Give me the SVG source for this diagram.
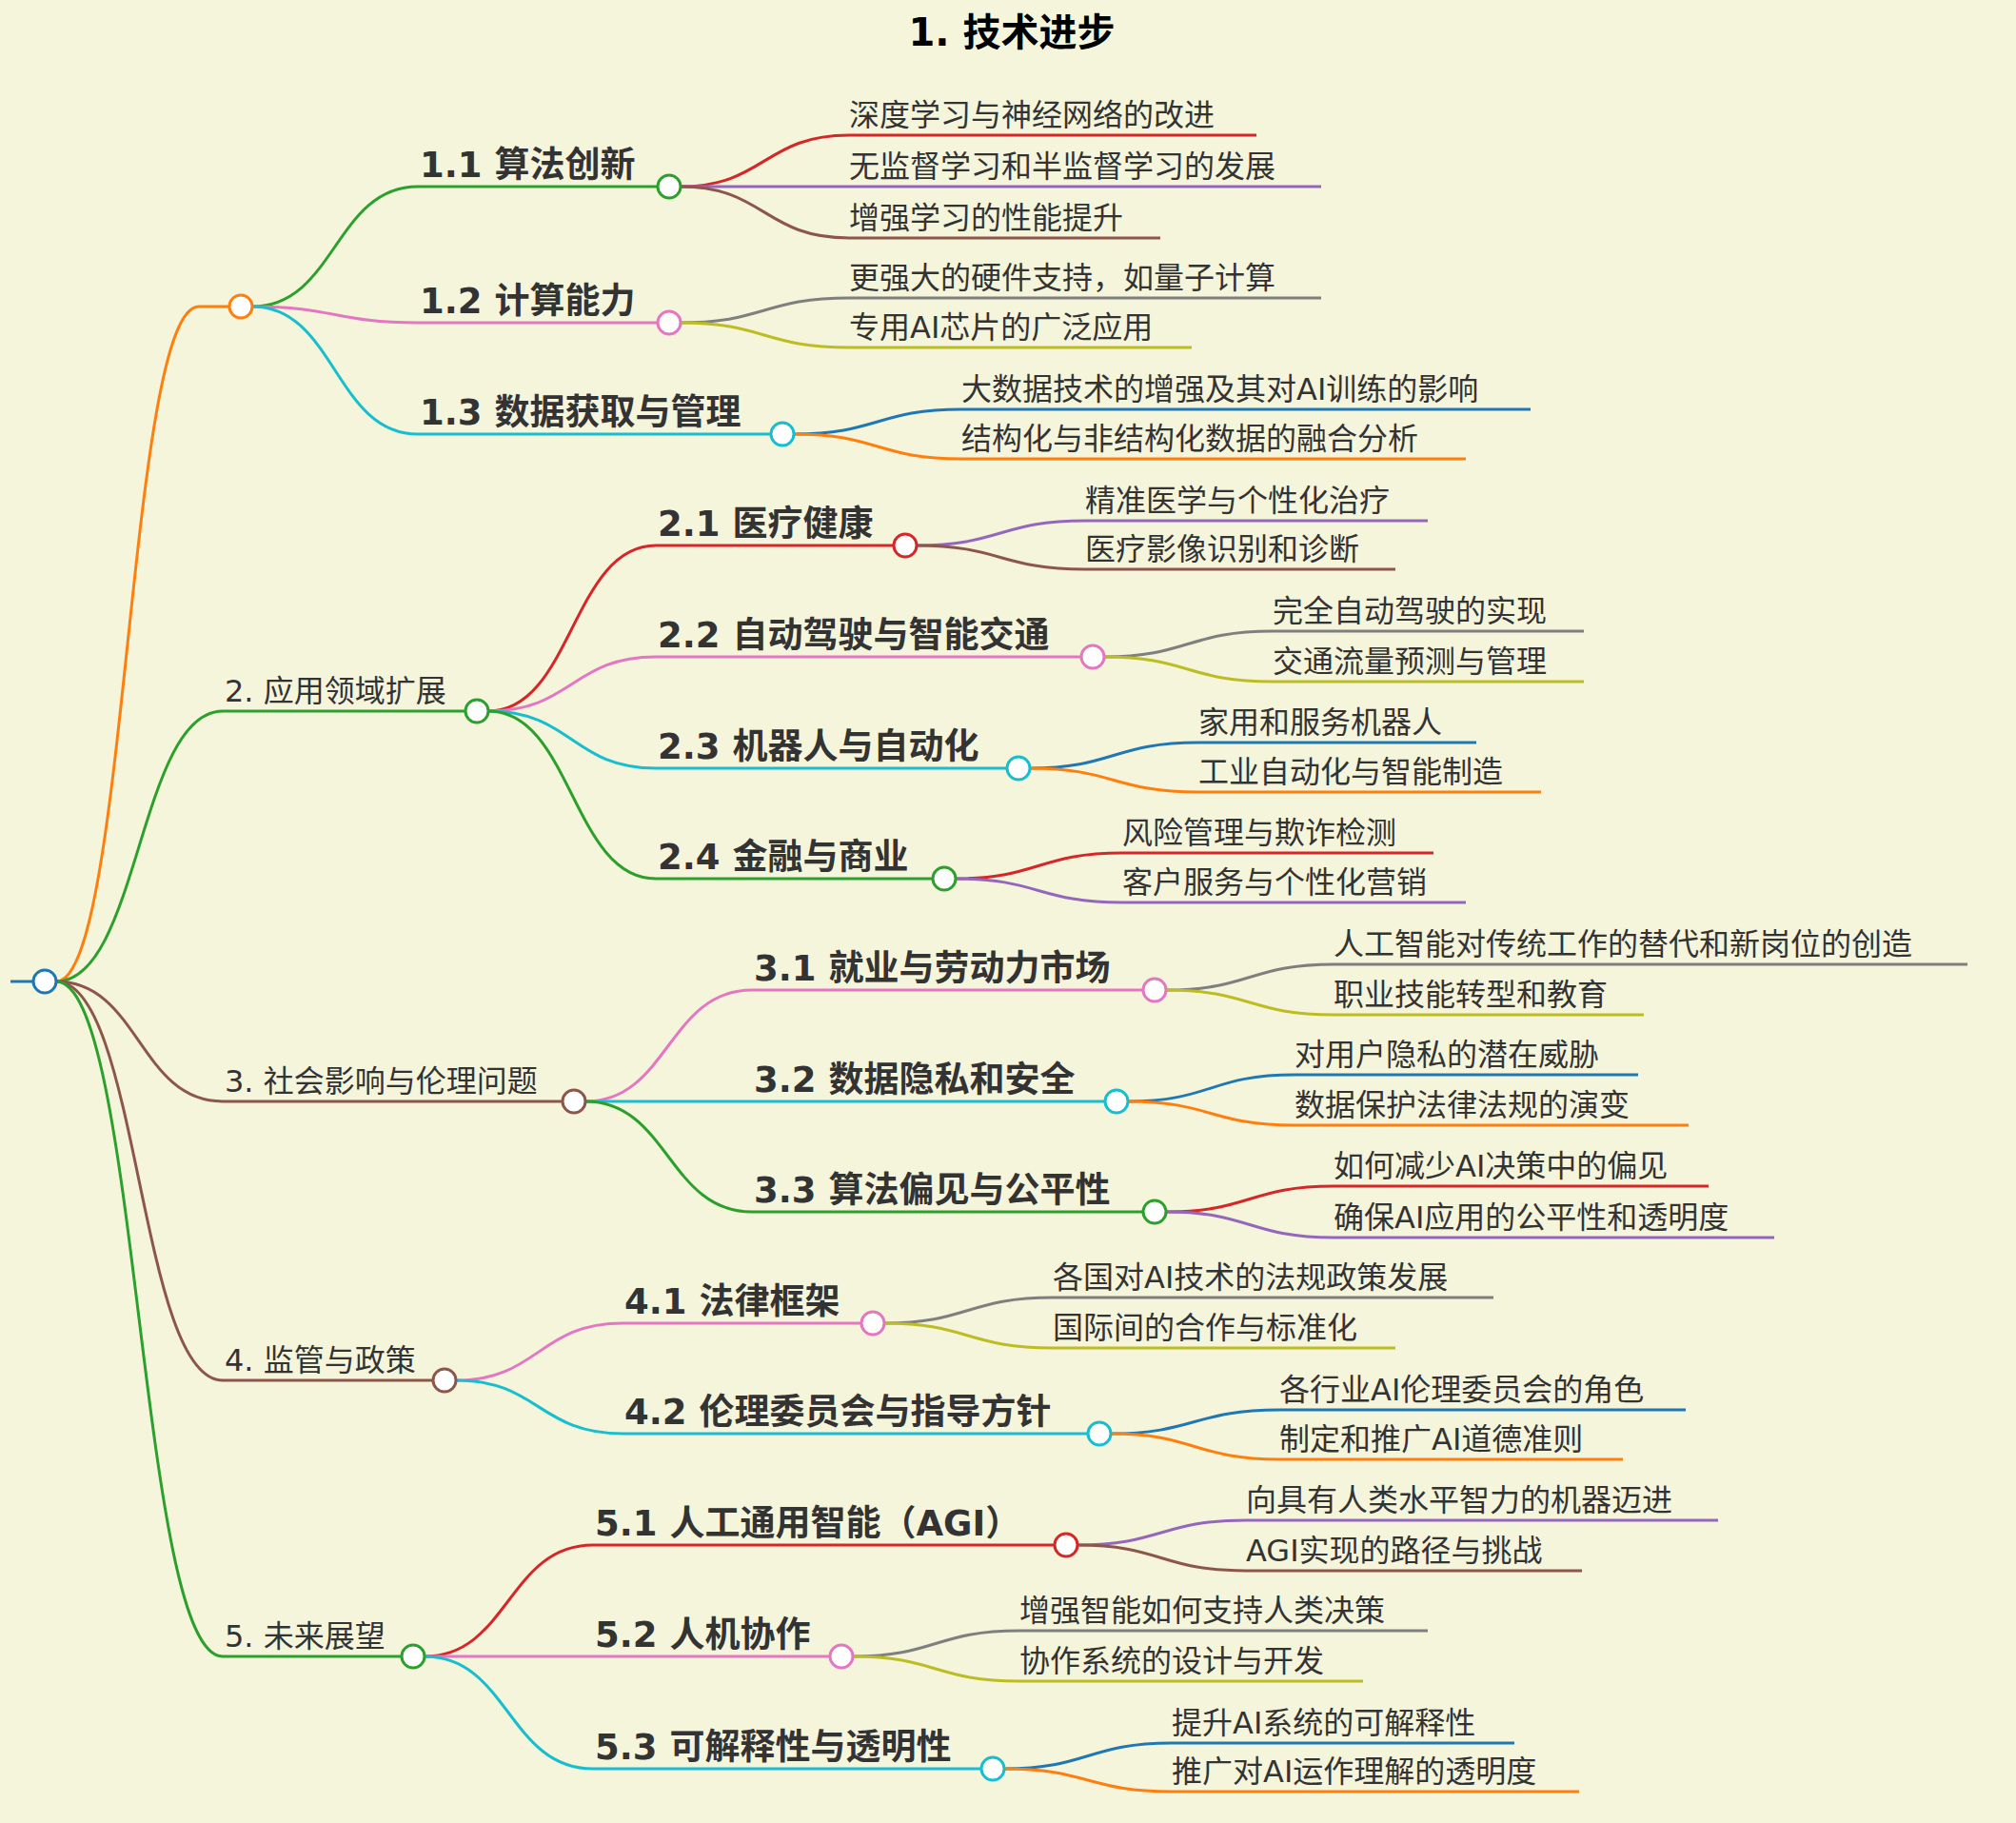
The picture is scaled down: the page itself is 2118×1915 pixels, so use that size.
<svg xmlns="http://www.w3.org/2000/svg" width="2118" height="1915" viewBox="0 0 2118 1915">
<style>
text{font-family:"DejaVu Sans","Noto Sans CJK SC",sans-serif;fill:#333}
.l1{font-size:32px}.l2{font-size:37px;font-weight:bold}.lf{font-size:32px}
.t{font-size:40px;font-weight:bold;fill:#000;text-anchor:middle}
path,line{fill:none;stroke-width:3}
circle{fill:#fff;stroke-width:3}
.or{stroke:#ff7f0e}.gr{stroke:#2ca02c}.bl{stroke:#1f77b4}.rd{stroke:#d62728}.pu{stroke:#9467bd}.br{stroke:#8c564b}.pk{stroke:#e377c2}.gy{stroke:#7f7f7f}.ol{stroke:#bcbd22}.cy{stroke:#17becf}
</style>
<rect width="2118" height="1915" fill="#f5f5dc"/>
<g id="connectors">
<line class="bl" x1="11" y1="1031" x2="35" y2="1031"/>
<path class="or" d="M59,1031 C134,1031 134,322 209,322 H241"/>
<path class="gr" d="M59,1031 C146,1031 146,747 234,747 H489"/>
<path class="br" d="M59,1031 C146,1031 146,1157 234,1157 H591"/>
<path class="br" d="M59,1031 C146,1031 146,1450 234,1450 H455"/>
<path class="gr" d="M59,1031 C146,1031 146,1740 234,1740 H422"/>
<path class="gr" d="M265,322 C352,322 352,196 439,196 H691"/>
<path class="pk" d="M265,322 C352,322 352,339 439,339 H691"/>
<path class="cy" d="M265,322 C352,322 352,456 439,456 H810"/>
<path class="rd" d="M513,747 C601,747 601,573 689,573 H939"/>
<path class="pk" d="M513,747 C601,747 601,690 689,690 H1136"/>
<path class="cy" d="M513,747 C601,747 601,807 689,807 H1058"/>
<path class="gr" d="M513,747 C601,747 601,923 689,923 H980"/>
<path class="pk" d="M615,1157 C702,1157 702,1040 790,1040 H1201"/>
<path class="cy" d="M615,1157 C702,1157 702,1157 790,1157 H1161"/>
<path class="gr" d="M615,1157 C702,1157 702,1273 790,1273 H1201"/>
<path class="pk" d="M479,1450 C566,1450 566,1390 654,1390 H905"/>
<path class="cy" d="M479,1450 C566,1450 566,1506 654,1506 H1143"/>
<path class="rd" d="M446,1740 C534,1740 534,1623 623,1623 H1108"/>
<path class="pk" d="M446,1740 C534,1740 534,1740 623,1740 H872"/>
<path class="cy" d="M446,1740 C534,1740 534,1858 623,1858 H1031"/>
<path class="rd" d="M715,196 C803,196 803,142 892,142 H1320"/>
<path class="pu" d="M715,196 C803,196 803,196 892,196 H1388"/>
<path class="br" d="M715,196 C803,196 803,250 892,250 H1219"/>
<path class="gy" d="M715,339 C803,339 803,313 892,313 H1388"/>
<path class="ol" d="M715,339 C803,339 803,365 892,365 H1252"/>
<path class="bl" d="M834,456 C922,456 922,430 1010,430 H1608"/>
<path class="or" d="M834,456 C922,456 922,482 1010,482 H1540"/>
<path class="pu" d="M963,573 C1051,573 1051,547 1140,547 H1500"/>
<path class="br" d="M963,573 C1051,573 1051,598 1140,598 H1466"/>
<path class="gy" d="M1160,690 C1248,690 1248,663 1337,663 H1664"/>
<path class="ol" d="M1160,690 C1248,690 1248,716 1337,716 H1664"/>
<path class="bl" d="M1082,807 C1170,807 1170,780 1259,780 H1551"/>
<path class="or" d="M1082,807 C1170,807 1170,832 1259,832 H1619"/>
<path class="rd" d="M1004,923 C1091,923 1091,896 1179,896 H1506"/>
<path class="pu" d="M1004,923 C1091,923 1091,948 1179,948 H1540"/>
<path class="gy" d="M1225,1040 C1313,1040 1313,1013 1401,1013 H2067"/>
<path class="ol" d="M1225,1040 C1313,1040 1313,1066 1401,1066 H1727"/>
<path class="bl" d="M1185,1157 C1272,1157 1272,1129 1360,1129 H1721"/>
<path class="or" d="M1185,1157 C1272,1157 1272,1182 1360,1182 H1774"/>
<path class="rd" d="M1225,1273 C1313,1273 1313,1246 1401,1246 H1795"/>
<path class="pu" d="M1225,1273 C1313,1273 1313,1300 1401,1300 H1864"/>
<path class="gy" d="M929,1390 C1017,1390 1017,1363 1106,1363 H1569"/>
<path class="ol" d="M929,1390 C1017,1390 1017,1416 1106,1416 H1466"/>
<path class="bl" d="M1167,1506 C1255,1506 1255,1481 1344,1481 H1771"/>
<path class="or" d="M1167,1506 C1255,1506 1255,1533 1344,1533 H1705"/>
<path class="pu" d="M1132,1623 C1220,1623 1220,1597 1309,1597 H1805"/>
<path class="br" d="M1132,1623 C1220,1623 1220,1650 1309,1650 H1662"/>
<path class="gy" d="M896,1740 C983,1740 983,1713 1071,1713 H1500"/>
<path class="ol" d="M896,1740 C983,1740 983,1766 1071,1766 H1432"/>
<path class="bl" d="M1055,1858 C1143,1858 1143,1831 1231,1831 H1591"/>
<path class="or" d="M1055,1858 C1143,1858 1143,1882 1231,1882 H1659"/>
</g>
<g id="root"><circle class="bl" cx="47" cy="1031" r="12"/></g>
<g id="n1"><text class="t" x="1063" y="48">1. 技术进步</text><circle class="or" cx="253" cy="322" r="12"/></g>
<g id="n2"><text class="l1" x="236" y="737">2. 应用领域扩展</text><circle class="gr" cx="501" cy="747" r="12"/></g>
<g id="n3"><text class="l1" x="236" y="1147">3. 社会影响与伦理问题</text><circle class="br" cx="603" cy="1157" r="12"/></g>
<g id="n4"><text class="l1" x="236" y="1440">4. 监管与政策</text><circle class="br" cx="467" cy="1450" r="12"/></g>
<g id="n5"><text class="l1" x="236" y="1730">5. 未来展望</text><circle class="gr" cx="434" cy="1740" r="12"/></g>
<g id="n1_1"><text class="l2" x="441" y="186">1.1 算法创新</text><circle class="gr" cx="703" cy="196" r="12"/></g>
<g id="n1_2"><text class="l2" x="441" y="329">1.2 计算能力</text><circle class="pk" cx="703" cy="339" r="12"/></g>
<g id="n1_3"><text class="l2" x="441" y="446">1.3 数据获取与管理</text><circle class="cy" cx="822" cy="456" r="12"/></g>
<g id="n2_1"><text class="l2" x="691" y="563">2.1 医疗健康</text><circle class="rd" cx="951" cy="573" r="12"/></g>
<g id="n2_2"><text class="l2" x="691" y="680">2.2 自动驾驶与智能交通</text><circle class="pk" cx="1148" cy="690" r="12"/></g>
<g id="n2_3"><text class="l2" x="691" y="797">2.3 机器人与自动化</text><circle class="cy" cx="1070" cy="807" r="12"/></g>
<g id="n2_4"><text class="l2" x="691" y="913">2.4 金融与商业</text><circle class="gr" cx="992" cy="923" r="12"/></g>
<g id="n3_1"><text class="l2" x="792" y="1030">3.1 就业与劳动力市场</text><circle class="pk" cx="1213" cy="1040" r="12"/></g>
<g id="n3_2"><text class="l2" x="792" y="1147">3.2 数据隐私和安全</text><circle class="cy" cx="1173" cy="1157" r="12"/></g>
<g id="n3_3"><text class="l2" x="792" y="1263">3.3 算法偏见与公平性</text><circle class="gr" cx="1213" cy="1273" r="12"/></g>
<g id="n4_1"><text class="l2" x="656" y="1380">4.1 法律框架</text><circle class="pk" cx="917" cy="1390" r="12"/></g>
<g id="n4_2"><text class="l2" x="656" y="1496">4.2 伦理委员会与指导方针</text><circle class="cy" cx="1155" cy="1506" r="12"/></g>
<g id="n5_1"><text class="l2" x="625" y="1613">5.1 人工通用智能（AGI）</text><circle class="rd" cx="1120" cy="1623" r="12"/></g>
<g id="n5_2"><text class="l2" x="625" y="1730">5.2 人机协作</text><circle class="pk" cx="884" cy="1740" r="12"/></g>
<g id="n5_3"><text class="l2" x="625" y="1848">5.3 可解释性与透明性</text><circle class="cy" cx="1043" cy="1858" r="12"/></g>
<g id="leaves">
<text class="lf" x="892" y="132">深度学习与神经网络的改进</text>
<text class="lf" x="892" y="186">无监督学习和半监督学习的发展</text>
<text class="lf" x="892" y="240">增强学习的性能提升</text>
<text class="lf" x="892" y="303">更强大的硬件支持，如量子计算</text>
<text class="lf" x="892" y="355">专用AI芯片的广泛应用</text>
<text class="lf" x="1010" y="420">大数据技术的增强及其对AI训练的影响</text>
<text class="lf" x="1010" y="472">结构化与非结构化数据的融合分析</text>
<text class="lf" x="1140" y="537">精准医学与个性化治疗</text>
<text class="lf" x="1140" y="588">医疗影像识别和诊断</text>
<text class="lf" x="1337" y="653">完全自动驾驶的实现</text>
<text class="lf" x="1337" y="706">交通流量预测与管理</text>
<text class="lf" x="1259" y="770">家用和服务机器人</text>
<text class="lf" x="1259" y="822">工业自动化与智能制造</text>
<text class="lf" x="1179" y="886">风险管理与欺诈检测</text>
<text class="lf" x="1179" y="938">客户服务与个性化营销</text>
<text class="lf" x="1401" y="1003">人工智能对传统工作的替代和新岗位的创造</text>
<text class="lf" x="1401" y="1056">职业技能转型和教育</text>
<text class="lf" x="1360" y="1119">对用户隐私的潜在威胁</text>
<text class="lf" x="1360" y="1172">数据保护法律法规的演变</text>
<text class="lf" x="1401" y="1236">如何减少AI决策中的偏见</text>
<text class="lf" x="1401" y="1290">确保AI应用的公平性和透明度</text>
<text class="lf" x="1106" y="1353">各国对AI技术的法规政策发展</text>
<text class="lf" x="1106" y="1406">国际间的合作与标准化</text>
<text class="lf" x="1344" y="1471">各行业AI伦理委员会的角色</text>
<text class="lf" x="1344" y="1523">制定和推广AI道德准则</text>
<text class="lf" x="1309" y="1587">向具有人类水平智力的机器迈进</text>
<text class="lf" x="1309" y="1640">AGI实现的路径与挑战</text>
<text class="lf" x="1071" y="1703">增强智能如何支持人类决策</text>
<text class="lf" x="1071" y="1756">协作系统的设计与开发</text>
<text class="lf" x="1231" y="1821">提升AI系统的可解释性</text>
<text class="lf" x="1231" y="1872">推广对AI运作理解的透明度</text>
</g>
</svg>
